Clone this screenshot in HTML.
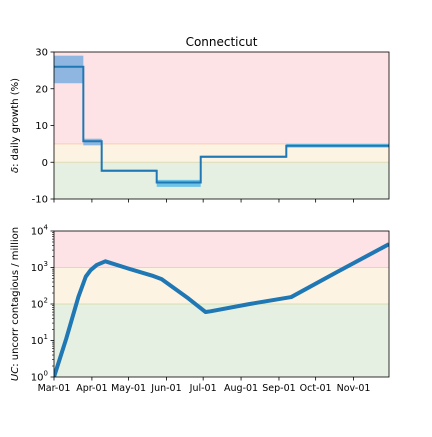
<!DOCTYPE html>
<html><head><meta charset="utf-8"><style>
body{margin:0;background:#fff;font-family:"Liberation Sans","DejaVu Sans",sans-serif}
svg text{font-family:"DejaVu Sans","Liberation Sans",sans-serif;font-size:10px;fill:#000}
</style></head><body>
<svg id="c" width="432" height="432" viewBox="0 0 432 432"></svg>
<script>
const stepStarts=[0,24,39,84,120,190];
const stepEnds=[24,39,84,120,190,274];
const stepVals=[26,5.7,-2.3,-5.5,1.5,4.5];
const bandLo=[21.5,4.6,-2.6,-6.7,1.2,4.0];
const bandHi=[29,6.4,-2.0,-4.8,1.8,5.0];
const ucDays=[0,10,20,26,30,35,42,60,80,88,110,124,128,160,194,230,274];
const ucLog=[0,1.05,2.2,2.75,2.93,3.07,3.17,2.98,2.78,2.68,2.15,1.78,1.8,2.0,2.19,2.85,3.64];
const monthLabels=['Mar-01','Apr-01','May-01','Jun-01','Jul-01','Aug-01','Sep-01','Oct-01','Nov-01'];
const monthDays=[0,31,61,92,122,153,184,214,245];
const topTicks=[-10,0,10,20,30];
const botTicks=[0,1,2,3,4];

const L=54,R=389,T1=52,B1=199,T2=231,B2=377,DMAX=274;
const x=d=>L+(R-L)*d/DMAX;
const y1=v=>B1-(B1-T1)*(v+10)/40;
const y2=v=>B2-(B2-T2)*v/4;
const svg=document.getElementById('c');
const NS='http://www.w3.org/2000/svg';
function mk(t,a,p){const e=document.createElementNS(NS,t);for(const k in a)e.setAttribute(k,a[k]);(p||svg).appendChild(e);return e;}

// top panel backgrounds
let e;
e=mk('rect',{x:L,y:y1(30),width:R-L,height:y1(5)-y1(30),fill:'#fde3e5'});

e=mk('rect',{x:L,y:y1(5),width:R-L,height:y1(0)-y1(5),fill:'#fdf3e3'});

e=mk('rect',{x:L,y:y1(0),width:R-L,height:y1(-10)-y1(0),fill:'#e5f0e2'});

mk('line',{x1:L,x2:R,y1:y1(5),y2:y1(5),stroke:'#f9cdb0','stroke-width':1});
mk('line',{x1:L,x2:R,y1:y1(0),y2:y1(0),stroke:'#e0dcb8','stroke-width':1});
// bands
for(let i=0;i<stepVals.length;i++){
  e=mk('rect',{x:x(stepStarts[i]),y:y1(bandHi[i]),width:x(stepEnds[i])-x(stepStarts[i]),height:y1(bandLo[i])-y1(bandHi[i]),fill:i==0||i==1?'#8fb6e0':'#6cc3e6'});
  
}
let d='';
for(let i=0;i<stepVals.length;i++){
  d+=(i==0?'M':'L')+x(stepStarts[i])+','+y1(stepVals[i])+'L'+x(stepEnds[i])+','+y1(stepVals[i]);
}
e=mk('path',{d:d,fill:'none',stroke:'#1f77b4','stroke-width':2});

mk('rect',{x:L,y:T1,width:R-L,height:B1-T1,fill:'none',stroke:'#000','stroke-width':0.8});
topTicks.forEach(v=>{
  mk('line',{x1:L-3.5,x2:L,y1:y1(v),y2:y1(v),stroke:'#000','stroke-width':0.8});
  e=mk('text',{x:L-6,y:y1(v)+3.5,'text-anchor':'end'});e.textContent=v;
  
});
monthDays.forEach(m=>mk('line',{x1:x(m),x2:x(m),y1:B1,y2:B1+3.5,stroke:'#000','stroke-width':0.8}));
e=mk('text',{x:(L+R)/2,y:T1-6,'text-anchor':'middle',style:'font-size:12px'});e.textContent='Connecticut';

e=mk('text',{x:0,y:0,'text-anchor':'middle',transform:`translate(18,${(T1+B1)/2}) rotate(-90)`});
e.innerHTML='<tspan font-style="italic">δ</tspan>: daily growth (%)';


// bottom panel
e=mk('rect',{x:L,y:y2(4),width:R-L,height:y2(3)-y2(4),fill:'#fde3e5'});

e=mk('rect',{x:L,y:y2(3),width:R-L,height:y2(2)-y2(3),fill:'#fdf3e3'});

e=mk('rect',{x:L,y:y2(2),width:R-L,height:y2(0)-y2(2),fill:'#e5f0e2'});

mk('line',{x1:L,x2:R,y1:y2(3),y2:y2(3),stroke:'#f9cdb0','stroke-width':1});
mk('line',{x1:L,x2:R,y1:y2(2),y2:y2(2),stroke:'#d6dfae','stroke-width':1});
const cp=mk('clipPath',{id:'cl'});mk('rect',{x:L,y:T2,width:R-L,height:B2-T2},cp);
d=ucDays.map((dd,i)=>(i?'L':'M')+x(dd)+','+y2(ucLog[i])).join('');
e=mk('path',{d:d,fill:'none',stroke:'#1f77b4','stroke-width':4,'stroke-linejoin':'round','clip-path':'url(#cl)'});

mk('rect',{x:L,y:T2,width:R-L,height:B2-T2,fill:'none',stroke:'#000','stroke-width':0.8});
botTicks.forEach(v=>{
  mk('line',{x1:L-3.5,x2:L,y1:y2(v),y2:y2(v),stroke:'#000','stroke-width':0.8});
  if(v<4)for(let k=2;k<10;k++){const yy=y2(v+Math.log10(k));mk('line',{x1:L-2,x2:L,y1:yy,y2:yy,stroke:'#000','stroke-width':0.6});}
  e=mk('text',{x:L-6,y:y2(v)+3.5,'text-anchor':'end'});e.innerHTML='10<tspan dy="-5" style="font-size:7px">'+v+'</tspan>';
  
});
monthDays.forEach((m,i)=>{
  mk('line',{x1:x(m),x2:x(m),y1:B2,y2:B2+3.5,stroke:'#000','stroke-width':0.8});
  e=mk('text',{x:x(m),y:B2+14,'text-anchor':'middle',style:'font-size:9.5px'});e.textContent=monthLabels[i];
  
});
e=mk('text',{x:0,y:0,'text-anchor':'middle',transform:`translate(18,${(T2+B2)/2}) rotate(-90)`});
e.innerHTML='<tspan font-style="italic">UC</tspan>: uncorr contagious / million';

</script>
</body></html>
